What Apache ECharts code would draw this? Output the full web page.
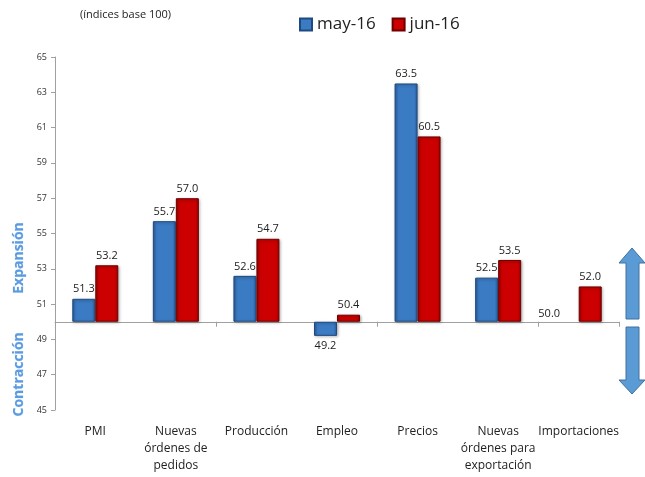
<!DOCTYPE html>
<html>
<head>
<meta charset="utf-8">
<script src="https://cdn.jsdelivr.net/npm/echarts@6/dist/echarts.min.js"></script>
<style>
  html, body { margin: 0; padding: 0; background: #fff; }
  #main { width: 645px; height: 477px; }
</style>
</head>
<body>
<div id="main"></div>
<script>
// datos del gráfico
var categorias = ['PMI', 'Nuevas\nórdenes de\npedidos', 'Producción', 'Empleo', 'Precios', 'Nuevas\nórdenes para\nexportación', 'Importaciones'];
var may16 = [51.3, 55.7, 52.6, 49.2, 63.5, 52.5, 50.0];
var jun16 = [53.2, 57.0, 54.7, 50.4, 60.5, 53.5, 52.0];
var base = 50;

var fuente = "'Open Sans', sans-serif";

/**
 * arma los datos de una serie relativos a la base 50
 */
function armarSerie(valores) {
    return valores.map(function (v) {
        var item = { value: +(v - base).toFixed(2), real: v };
        if (v < base) {
            item.label = { position: 'bottom' };
        } else if (v === base) {
            item.label = { offset: [-18, 2] };
            item.itemStyle = { borderWidth: 0, shadowBlur: 0, shadowOffsetX: 0, shadowOffsetY: 0 };
        }
        return item;
    });
}

function estiloBarra(claro, oscuro, borde) {
    return {
        color: new echarts.graphic.LinearGradient(0, 0, 1, 0, [
            { offset: 0, color: oscuro },
            { offset: 0.15, color: claro },
            { offset: 0.85, color: claro },
            { offset: 1, color: oscuro }
        ]),
        borderColor: borde,
        borderWidth: 1,
        shadowColor: 'rgba(0,0,0,0.35)',
        shadowBlur: 3,
        shadowOffsetX: 1,
        shadowOffsetY: 1
    };
}

var etiqueta = {
    show: true,
    position: 'top',
    fontFamily: fuente,
    fontSize: 11,
    color: '#222',
    distance: 4,
    formatter: function (p) { return p.data.real.toFixed(1); }
};

var dom = document.getElementById('main');
var myChart = echarts.init(dom);

var option = {
    animation: false,
    textStyle: { fontFamily: fuente },
    title: {
        text: '(índices base 100)',
        left: 80,
        top: 9,
        padding: 0,
        textStyle: { fontSize: 11, fontWeight: 'normal', color: '#222', fontFamily: fuente }
    },
    legend: {
        data: ['may-16', 'jun-16'],
        icon: 'rect',
        left: 294,
        top: 11,
        itemWidth: 12,
        itemHeight: 12,
        itemGap: 16,
        textStyle: { fontSize: 17, color: '#222', fontFamily: fuente }
    },
    grid: { left: 55, right: 26, top: 57, bottom: 67 },
    xAxis: [{
        type: 'category',
        data: categorias,
        axisLine: { onZero: true, lineStyle: { color: '#a0a0a0' } },
        axisTick: { show: true, length: 5, inside: false, lineStyle: { color: '#a0a0a0' } },
        axisLabel: { show: false }
    }, {
        type: 'category',
        data: categorias,
        position: 'bottom',
        axisLine: { show: false, onZero: false },
        axisTick: { show: false },
        axisLabel: { show: true, margin: 13, fontSize: 12, color: '#222', lineHeight: 17, interval: 0, fontFamily: fuente }
    }],
    yAxis: {
        type: 'value',
        min: -5,
        max: 15,
        interval: 2,
        splitLine: { show: false },
        axisLine: { show: true, lineStyle: { color: '#a0a0a0' } },
        axisTick: { show: true, length: 4, lineStyle: { color: '#a0a0a0' } },
        axisLabel: {
            fontSize: 9, color: '#333', margin: 8,
            formatter: function (v) { return String(v + base); }
        }
    },
    series: [{
        name: 'may-16',
        type: 'bar',
        xAxisIndex: 0,
        barWidth: 23,
        barGap: '0%',
        data: armarSerie(may16),
        itemStyle: estiloBarra('#3b7bc4', '#2a5f9e', '#1f4a80'),
        label: etiqueta
    }, {
        name: 'jun-16',
        type: 'bar',
        xAxisIndex: 0,
        barWidth: 23,
        data: armarSerie(jun16),
        itemStyle: estiloBarra('#cc0000', '#9e0000', '#6e0000'),
        label: etiqueta
    }],
    graphic: [{
        type: 'text',
        left: 12,
        top: 222,
        rotation: Math.PI / 2,
        style: {
            text: 'Expansión', fill: '#5b9be0', font: 'bold 14px ' + fuente,
            stroke: '#cfe2f7', lineWidth: 0.5
        }
    }, {
        type: 'text',
        left: 12,
        top: 332,
        rotation: Math.PI / 2,
        style: {
            text: 'Contracción', fill: '#5b9be0', font: 'bold 14px ' + fuente,
            stroke: '#cfe2f7', lineWidth: 0.5
        }
    }, {
        type: 'polygon',
        shape: { points: [[632, 248], [645, 263], [639, 263], [639, 319], [626, 319], [626, 263], [619, 263]] },
        style: { fill: '#5b9bd5', stroke: '#41719c', lineWidth: 1 }
    }, {
        type: 'polygon',
        shape: { points: [[626, 327], [639, 327], [639, 380], [645, 380], [632, 394], [619, 380], [626, 380]] },
        style: { fill: '#5b9bd5', stroke: '#41719c', lineWidth: 1 }
    }]
};

if (option && typeof option === 'object') {
    myChart.setOption(option);
}
</script>
</body>
</html>
